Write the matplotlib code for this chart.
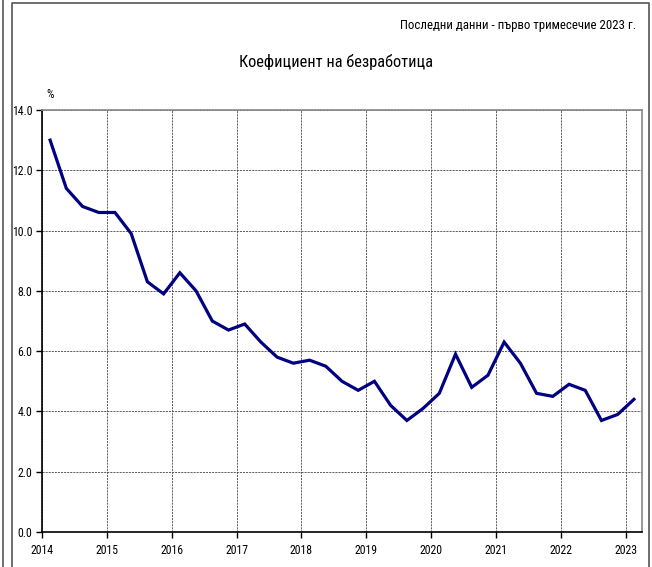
import numpy as np
import matplotlib
matplotlib.use("Agg")
import matplotlib.pyplot as plt
from matplotlib.lines import Line2D
from matplotlib import font_manager

# quarterly unemployment rate, 2014 Q1 .. 2023 Q1
years = list(range(2014, 2024))
rate = [13.0, 11.4, 10.8, 10.6,
        10.6, 9.9, 8.3, 7.9,
        8.6, 8.0, 7.0, 6.7,
        6.9, 6.3, 5.8, 5.6,
        5.7, 5.5, 5.0, 4.7,
        5.0, 4.2, 3.7, 4.1,
        4.6, 5.9, 4.8, 5.2,
        6.3, 5.6, 4.6, 4.5,
        4.9, 4.7, 3.7, 3.9,
        4.4]
yticks = [0, 2, 4, 6, 8, 10, 12, 14]

title = "Коефициент на безработица"
note = "Последни данни - първо тримесечие 2023 г."

names = {f.name for f in font_manager.fontManager.ttflist}
fam = [n for n in ('Liberation Sans Narrow', 'DejaVu Sans Condensed', 'Roboto Condensed', 'Lato')
       if n in names] + ['DejaVu Sans']
plt.rcParams['font.family'] = fam
plt.rcParams['font.stretch'] = 'condensed'

W, H = 652, 567
fig = plt.figure(figsize=(W / 100, H / 100), dpi=100)

# quarter midpoints
x = 2014 + (np.arange(len(rate)) + 0.5) / 4

ax = fig.add_axes([42 / W, 1 - 532 / H, 600 / W, 422 / H])
ax.plot(x, rate, color='#000080', lw=2.3, solid_joinstyle='miter')
ax.set_xlim(2014, 2023.25)
ax.set_ylim(0, 14)
ax.set_xticks(years)
ax.set_xticklabels([str(y) for y in years], fontsize=8.5)
ax.set_yticks(yticks)
ax.set_yticklabels(["%.1f" % v for v in yticks], fontsize=8.5)
ax.grid(True, color='#444444', ls=(0, (2.5, 1.2)), lw=0.6)
ax.tick_params(length=4, width=1, pad=3)
ax.tick_params(axis='x', pad=5)
ax.spines['left'].set_linewidth(1.2)
ax.spines['bottom'].set_linewidth(1.2)
for s in ('top', 'right'):
    ax.spines[s].set_color('#888888')
    ax.spines[s].set_linewidth(1.2)

fig.text(336 / W, 1 - 62 / H, title, ha='center', va='center', fontsize=11.8)
fig.text(636 / W, 1 - 26 / H, note, ha='right', va='center', fontsize=9.3)
fig.text(50 / W, 1 - 94 / H, "%", ha='center', va='center', fontsize=8.5)

# outer frame
fr = '#555555'
fig.add_artist(Line2D([2.5 / W, 2.5 / W], [0, 1], color=fr, lw=1.2))
fig.add_artist(Line2D([12 / W, 12 / W, 649 / W, 649 / W],
                      [0, 1 - 3 / H, 1 - 3 / H, 0], color=fr, lw=1.2))

fig.savefig("out.png", dpi=100)
